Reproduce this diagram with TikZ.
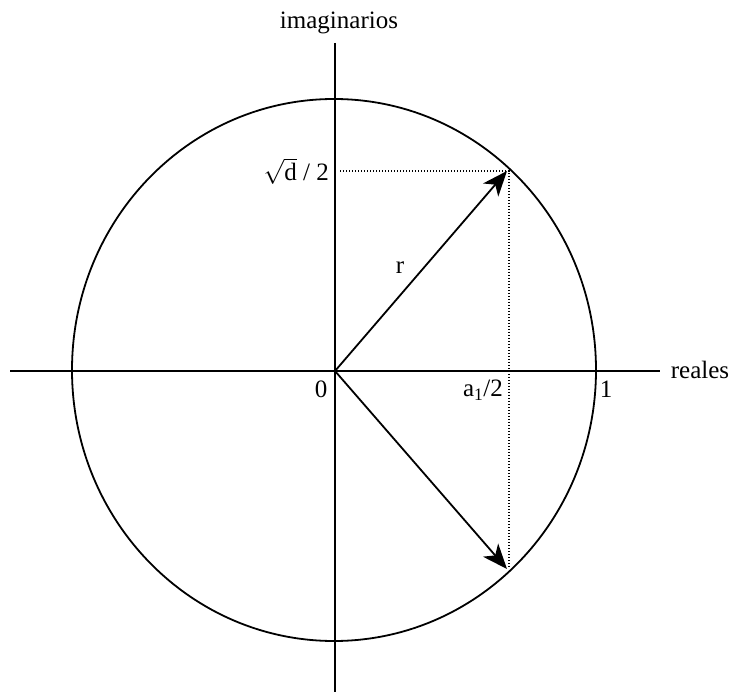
\documentclass[tikz,border=0pt]{standalone}
\usepackage{fontspec}
\setmainfont{Liberation Serif}
\usetikzlibrary{arrows.meta}
\begin{document}
\begin{tikzpicture}[x=1pt,y=-1pt,
  axis/.style={line width=1.9pt},
  circ/.style={line width=1.8pt},
  vec/.style={line width=1.8pt,-{Stealth[length=25pt,width=20pt,inset=7pt]}},
  dots/.style={line width=1.4pt,dash pattern=on 1.4pt off 1.6pt},
  lbl/.style={font=\fontsize{25}{29}\selectfont,inner sep=0pt}]
\useasboundingbox (0,0) rectangle (733,692);
\coordinate (O) at (335,371);
\coordinate (xl) at (10,371);
\coordinate (xr) at (660,371);
\coordinate (yt) at (335,43);
\coordinate (yb) at (335,692);
\coordinate (P) at (507,171);
\coordinate (Q) at (507,569);
\coordinate (Py) at (340,171);
\coordinate (Dq) at (509,567);
\coordinate (Dp) at (509,171);
\draw[circ] (334,370) ellipse [x radius=262, y radius=271];
\draw[axis] (xl) -- (xr);
\draw[axis] (yt) -- (yb);
\draw[dots] (Py) -- (Dp) -- (Dq);
\draw[vec] (O) -- (P);
\draw[vec] (O) -- (Q);
\node[lbl] (im) at (339,23) {imaginarios};
\node[lbl] (re) at (700,370) {reales};
\node[lbl,anchor=east] (sd) at (329,171) {$\sqrt{\mbox{d}}$ / 2};
\node[lbl] (r) at (400,268) {r};
\node[lbl] (zero) at (321,389) {0};
\node[lbl] (a) at (483,390) {a\textsubscript{1}/2};
\node[lbl] (one) at (606,389) {1};
\end{tikzpicture}
\end{document}
